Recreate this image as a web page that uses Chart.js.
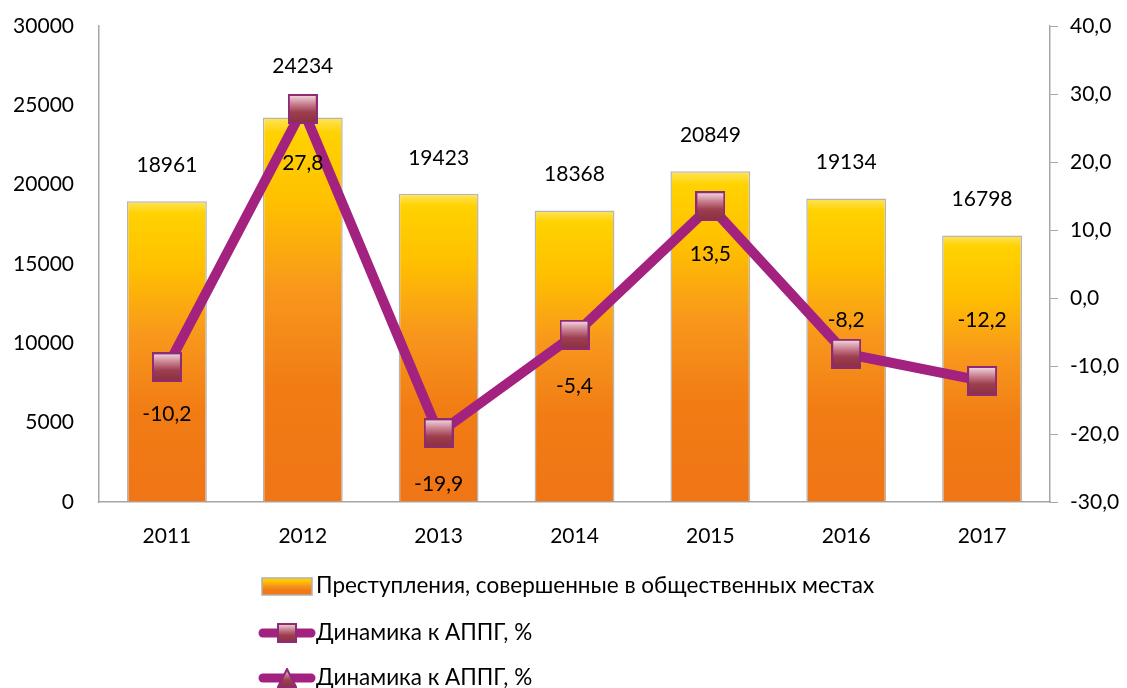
<!DOCTYPE html>
<html>
<head>
<meta charset="utf-8">
<script src="https://cdn.jsdelivr.net/npm/chart.js@4"></script>
<style>
  html, body { margin: 0; padding: 0; background: #fff; }
  #wrap { width: 1127px; height: 688px; }
</style>
</head>
<body>
<div id="wrap"><canvas id="chart" width="1127" height="688"></canvas></div>
<script>
// данные
const years = ['2011', '2012', '2013', '2014', '2015', '2016', '2017'];
const crimes = [18961, 24234, 19423, 18368, 20849, 19134, 16798];
const dynamics = [-10.2, 27.8, -19.9, -5.4, 13.5, -8.2, -12.2];
const dynamics2 = [null, null, null, null, null, null, null];
const leftTicks = [0, 5000, 10000, 15000, 20000, 25000, 30000];
const rightTicks = [-30, -20, -10, 0, 10, 20, 30, 40];

const FONT = 'Lato, "Open Sans", "DejaVu Sans", sans-serif';
const PURPLE = '#A3217F';
const fmt = v => v.toFixed(1).replace('.', ',');

// маркеры
function makeMarker(size, shape) {
    const cv = document.createElement('canvas');
    cv.width = size; cv.height = size;
    const c = cv.getContext('2d');
    const g = c.createLinearGradient(0, 0, 0, size);
    g.addColorStop(0, '#F7E4EA');
    g.addColorStop(0.35, '#C77B8C');
    g.addColorStop(0.6, '#9E3F50');
    g.addColorStop(1, '#8A2E40');
    c.fillStyle = g;
    c.strokeStyle = '#8E2A78';
    c.lineWidth = 2;
    c.beginPath();
    if (shape === 'tri') {
        c.moveTo(size / 2, 1);
        c.lineTo(size - 1, size - 1);
        c.lineTo(1, size - 1);
        c.closePath();
    } else {
        c.rect(1, 1, size - 2, size - 2);
    }
    c.fill();
    c.stroke();
    return cv;
}
const squareMarker = makeMarker(30, 'rect');
const squareSmall = makeMarker(20, 'rect');
const triSmall = makeMarker(20, 'tri');

function barGradient(c, top, bottom) {
    const g = c.createLinearGradient(0, top, 0, bottom);
    g.addColorStop(0, '#FFE45C');
    g.addColorStop(0.04, '#FFD200');
    g.addColorStop(0.22, '#FFC000');
    g.addColorStop(0.45, '#F8971C');
    g.addColorStop(0.7, '#F17C14');
    g.addColorStop(1, '#F07516');
    return g;
}

// подписи значений
const barLift = [36, 51, 36, 36, 36, 36, 36];
const lineShift = [47, 54, 51, 52, 48, -34, -61];
const labelsPlugin = {
    id: 'valueLabels',
    afterDatasetsDraw(chart) {
        const c = chart.ctx;
        c.save();
        c.font = '21px ' + FONT;
        c.fillStyle = '#000';
        c.textAlign = 'center';
        c.textBaseline = 'middle';
        chart.getDatasetMeta(0).data.forEach((el, i) => {
            c.fillText(String(crimes[i]), el.x, el.y - barLift[i]);
        });
        chart.getDatasetMeta(1).data.forEach((el, i) => {
            c.fillText(fmt(dynamics[i]), el.x, el.y + lineShift[i]);
        });
        c.restore();
    }
};

// легенда столбиком
const legendPlugin = {
    id: 'stackLegend',
    afterDraw(chart) {
        const c = chart.ctx;
        const x0 = 262, rows = [586, 633, 678];
        c.save();
        c.font = '22.5px ' + FONT;
        c.fillStyle = '#000';
        c.textBaseline = 'middle';
        chart.data.datasets.forEach((ds, i) => {
            const y = rows[i];
            if (ds.type === 'bar') {
                c.fillStyle = barGradient(c, y - 8, y + 9);
                c.fillRect(x0, y - 8, 50, 17);
                c.strokeStyle = '#B0B0B0';
                c.lineWidth = 1.5;
                c.strokeRect(x0, y - 8, 50, 17);
            } else {
                c.strokeStyle = PURPLE;
                c.lineWidth = 9;
                c.lineCap = 'round';
                c.beginPath();
                c.moveTo(x0 + 1, y);
                c.lineTo(x0 + 49, y);
                c.stroke();
                const m = i === 1 ? squareSmall : triSmall;
                c.drawImage(m, x0 + 25 - 10, y - 10);
            }
            c.fillStyle = '#000';
            c.fillText(ds.label, x0 + 54, y);
        });
        c.restore();
    }
};

function noPad(s) {
    s.paddingTop = 0;
    s.paddingBottom = 0;
}

Chart.defaults.font.family = FONT;
Chart.defaults.font.size = 21;
Chart.defaults.color = '#000';

new Chart(document.getElementById('chart').getContext('2d'), {
    data: {
        labels: years,
        datasets: [{
            type: 'bar',
            label: 'Преступления, совершенные в общественных местах',
            data: crimes,
            yAxisID: 'y',
            order: 2,
            backgroundColor: (ctx) => {
                const chart = ctx.chart;
                if (!chart.chartArea || ctx.raw == null) return '#FFC000';
                const s = chart.scales.y;
                return barGradient(chart.ctx, s.getPixelForValue(ctx.raw), s.getPixelForValue(0));
            },
            borderColor: 'rgba(150,150,150,0.7)',
            borderWidth: 1.5,
            borderSkipped: 'bottom',
            categoryPercentage: 0.6,
            barPercentage: 0.98
        }, {
            type: 'line',
            label: 'Динамика к АППГ, %',
            data: dynamics,
            yAxisID: 'y1',
            order: 0,
            borderColor: PURPLE,
            borderWidth: 10,
            borderJoinStyle: 'round',
            pointStyle: squareMarker,
            pointRadius: 15,
            pointHoverRadius: 15,
            tension: 0
        }, {
            type: 'line',
            label: 'Динамика к АППГ, %',
            data: dynamics2,
            yAxisID: 'y1',
            order: 1,
            borderColor: PURPLE,
            borderWidth: 10,
            pointStyle: triSmall,
            pointRadius: 10
        }]
    },
    options: {
        responsive: false,
        animation: false,
        layout: { padding: { top: 26, left: 0, right: 0, bottom: 128 } },
        plugins: {
            legend: { display: false },
            tooltip: { enabled: false }
        },
        scales: {
            x: {
                grid: { display: true, drawOnChartArea: false, drawTicks: false },
                border: { display: true, color: '#A6A6A6', width: 1.5 },
                ticks: { padding: 22 },
                afterFit(s) { s.height = 58; s.paddingLeft = 0; s.paddingRight = 0; }
            },
            y: {
                position: 'left',
                min: 0, max: 30000,
                afterBuildTicks(s) { s.ticks = leftTicks.map(v => ({ value: v })); },
                grid: { display: true, drawOnChartArea: false, drawTicks: false },
                border: { display: true, color: '#A6A6A6', width: 1.5 },
                ticks: { padding: 25, callback: v => String(v) },
                afterFit(s) { s.width = 99; noPad(s); }
            },
            y1: {
                position: 'right',
                min: -30, max: 40,
                afterBuildTicks(s) { s.ticks = rightTicks.map(v => ({ value: v })); },
                grid: { display: true, drawOnChartArea: false, drawTicks: true, tickLength: 8, color: '#A6A6A6' },
                border: { display: true, color: '#A6A6A6', width: 1.5 },
                ticks: { padding: 12, callback: v => fmt(v) },
                afterFit(s) { s.width = 77; noPad(s); }
            }
        }
    },
    plugins: [labelsPlugin, legendPlugin]
});
</script>
</body>
</html>
